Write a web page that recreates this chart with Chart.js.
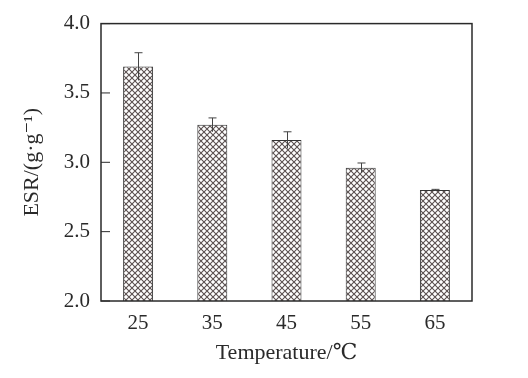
<!DOCTYPE html>
<html>
<head>
<meta charset="utf-8">
<script src="https://cdn.jsdelivr.net/npm/chart.js@4"></script>
<style>
  html, body { margin: 0; padding: 0; background: #fff; }
  #wrap { width: 528px; height: 378px; }
</style>
</head>
<body>
<div id="wrap"><canvas id="esrChart" width="528" height="378"></canvas></div>
<script>
// --- data ---
const temperatures = ['25', '35', '45', '55', '65'];
const esrValues = [3.69, 3.27, 3.16, 2.96, 2.80];
const esrErrors = [0.10, 0.05, 0.06, 0.035, 0.005];
const yTicks = [2.0, 2.5, 3.0, 3.5, 4.0];

const serif = "'Liberation Serif', 'DejaVu Serif', serif";
const ink = '#2a2a2a';

// crosshatch pattern for the bars
function makeHatch() {
    const c = document.createElement('canvas');
    c.width = 6; c.height = 6;
    const g = c.getContext('2d');
    g.fillStyle = '#fff';
    g.fillRect(0, 0, 6, 6);
    g.strokeStyle = '#5a5050';
    g.lineWidth = 1.1;
    g.beginPath();
    g.moveTo(-1, -1); g.lineTo(7, 7);
    g.moveTo(-1, 7); g.lineTo(7, -1);
    g.stroke();
    return g.createPattern(c, 'repeat');
}

// box around the plot area + inward y ticks
const framePlugin = {
    id: 'frame',
    afterDatasetsDraw(chart) {
        const { ctx, chartArea: a, scales } = chart;
        ctx.save();
        ctx.strokeStyle = ink;
        ctx.lineWidth = 1.5;
        ctx.strokeRect(a.left, a.top, a.right - a.left, a.bottom - a.top);
        ctx.lineWidth = 1;
        yTicks.forEach(v => {
            const y = scales.y.getPixelForValue(v);
            ctx.beginPath();
            ctx.moveTo(a.left, y);
            ctx.lineTo(a.left + 9, y);
            ctx.stroke();
        });
        ctx.restore();
    }
};

// error bars (upper + lower whisker, cap on top)
const errorPlugin = {
    id: 'errors',
    afterDatasetsDraw(chart) {
        const { ctx, scales } = chart;
        const meta = chart.getDatasetMeta(0);
        ctx.save();
        ctx.strokeStyle = '#444';
        ctx.lineWidth = 1;
        meta.data.forEach((bar, i) => {
            const x = Math.round(bar.x) + 0.5;
            const yHi = scales.y.getPixelForValue(esrValues[i] + esrErrors[i]);
            const yLo = scales.y.getPixelForValue(esrValues[i] - esrErrors[i]);
            ctx.beginPath();
            ctx.moveTo(x, yLo);
            ctx.lineTo(x, yHi);
            ctx.moveTo(x - 4, yHi);
            ctx.lineTo(x + 4, yHi);
            ctx.stroke();
        });
        ctx.restore();
    }
};

new Chart(document.getElementById('esrChart'), {
    type: 'bar',
    data: {
        labels: temperatures,
        datasets: [{
            data: esrValues,
            backgroundColor: makeHatch(),
            borderColor: '#333',
            borderWidth: 1,
            barPercentage: 0.404,
            categoryPercentage: 1.0
        }]
    },
    options: {
        responsive: false,
        animation: false,
        layout: { padding: { top: 23, right: 56, left: 0, bottom: 0 } },
        plugins: {
            legend: { display: false },
            tooltip: { enabled: false }
        },
        scales: {
            x: {
                grid: { display: false, drawTicks: false },
                border: { display: false },
                ticks: {
                    color: ink,
                    font: { family: serif, size: 21 },
                    padding: 10
                },
                title: {
                    display: true,
                    text: 'Temperature/℃',
                    color: ink,
                    font: { family: serif, size: 22 },
                    padding: { top: 0, bottom: 12 }
                },
                afterFit(scale) { scale.height = 77; }
            },
            y: {
                min: 2.0,
                max: 4.0,
                afterBuildTicks(scale) { scale.ticks = yTicks.map(v => ({ value: v })); },
                grid: { display: false, drawTicks: false },
                border: { display: false },
                ticks: {
                    color: ink,
                    font: { family: serif, size: 21 },
                    padding: 11,
                    callback: v => v.toFixed(1)
                },
                title: {
                    display: true,
                    text: 'ESR/(g·g⁻¹)',
                    color: ink,
                    font: { family: serif, size: 22 },
                    padding: { top: 19, bottom: 0 }
                },
                afterFit(scale) { scale.width = 101; }
            }
        }
    },
    plugins: [framePlugin, errorPlugin]
});
</script>
</body>
</html>
